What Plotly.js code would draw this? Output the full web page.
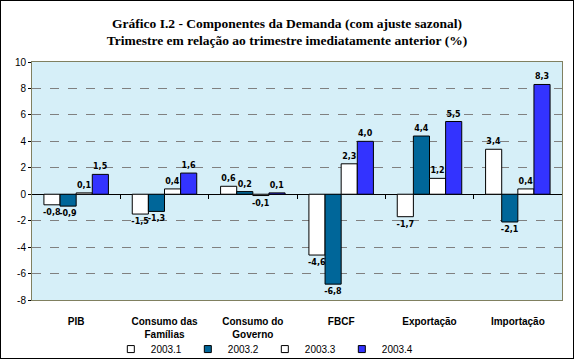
<!DOCTYPE html>
<html><head><meta charset="utf-8">
<script src="https://cdn.plot.ly/plotly-3.0.1.min.js"></script>
<style>html,body{margin:0;padding:0;background:#fff}#c{width:572px;height:357px;border:1px solid #000}</style>
</head><body><div id="c"></div>
<script>
const categories = ["PIB", "Consumo das<br>Famílias", "Consumo do<br>Governo", "FBCF", "Exportação", "Importação"];
const seriesNames = ["2003.1", "2003.2", "2003.3", "2003.4"];
const s2003_1 = [-0.8, -1.5, 0.6, -4.6, -1.7, 3.4];
const s2003_2 = [-0.9, -1.3, 0.2, -6.8, 4.4, -2.1];
const s2003_3 = [0.1, 0.4, -0.1, 2.3, 1.2, 0.4];
const s2003_4 = [1.5, 1.6, 0.1, 4.0, 5.5, 8.3];
const yTicks = [-8, -6, -4, -2, 0, 2, 4, 6, 8, 10];
const colors = ["#ffffff", "#006699", "#ffffff", "#3333ff"];
const allSeries = [s2003_1, s2003_2, s2003_3, s2003_4];
const fmt = v => v.toFixed(1).replace('.', ',');
const traces = allSeries.map((vals, i) => ({
  type: 'bar', name: seriesNames[i], x: categories, y: vals, legendgroup: seriesNames[i], showlegend: false,
  text: vals.map(fmt), textposition: 'outside', cliponaxis: false, constraintext: 'none',
  textfont: {family: 'DejaVu Sans', size: 8, color: '#000', weight: 'bold'},
  marker: {color: colors[i], line: {color: '#000', width: 1}},
  hoverinfo: 'none'
}));
// legend entries with small square keys, as in the reference
seriesNames.forEach((n, i) => traces.push({type: 'scatter', mode: 'markers', name: n, legendgroup: n,
  x: [null], y: [null], marker: {symbol: 'square', size: 7, color: colors[i], line: {color: '#000', width: 1}},
  hoverinfo: 'none'}));
// invisible helper trace so the category-boundary tick axis at y=0 is drawn
const boundaries = categories.slice(1).map((_, i) => i + 0.5);
traces.push({type: 'scatter', mode: 'markers', x: [0], y: [0], xaxis: 'x2', yaxis: 'y',
  marker: {opacity: 0}, showlegend: false, hoverinfo: 'none'});
const layout = {
  width: 572, height: 357,
  margin: {l: 31, r: 11, t: 61, b: 58, autoexpand: false},
  paper_bgcolor: '#fff', plot_bgcolor: '#d6eff8',
  title: {text: '<b>Gráfico I.2 - Componentes da Demanda (com ajuste sazonal)<br>Trimestre em relação ao trimestre imediatamente anterior (%)</b>',
    font: {family: 'Liberation Serif', size: 13.5, color: '#000'}, x: 0.5, xanchor: 'center', y: 0.925, yanchor: 'top'},
  barmode: 'group', bargap: 0.27, bargroupgap: 0,
  showlegend: true,
  legend: {orientation: 'h', xref: 'container', yref: 'container', x: 0.192, xanchor: 'left', y: 0.025, yanchor: 'middle',
    font: {family: 'Liberation Sans', size: 10, color: '#000'},
    entrywidth: 32, itemwidth: 30, tracegroupgap: 0, bgcolor: 'rgba(0,0,0,0)'},
  xaxis: {type: 'category', tickfont: {family: 'Liberation Sans', size: 10, color: '#000', weight: 'bold'},
    ticks: 'outside', ticklen: 12, tickcolor: 'rgba(0,0,0,0)', showline: true, linecolor: '#808060', linewidth: 1, mirror: true,
    showgrid: false, fixedrange: true},
  xaxis2: {overlaying: 'x', anchor: 'free', position: 8 / 18, range: [-0.5, categories.length - 0.5],
    tickvals: boundaries, showticklabels: false, ticks: 'outside', ticklen: 4, tickcolor: '#000',
    showline: false, showgrid: false, zeroline: false, fixedrange: true},
  yaxis: {range: [-8, 10], tickvals: yTicks, ticktext: yTicks.map(String), tickfont: {family: 'Liberation Sans', size: 10, color: '#000'},
    ticks: 'outside', ticklen: 3, tickcolor: '#000', showline: true, linecolor: '#808060', mirror: true,
    showgrid: true, gridcolor: '#808080', griddash: 'dash', gridwidth: 1,
    zeroline: true, zerolinecolor: '#000', zerolinewidth: 1, fixedrange: true}
};
Plotly.newPlot('c', traces, layout, {displayModeBar: false, staticPlot: true});
</script></body></html>
